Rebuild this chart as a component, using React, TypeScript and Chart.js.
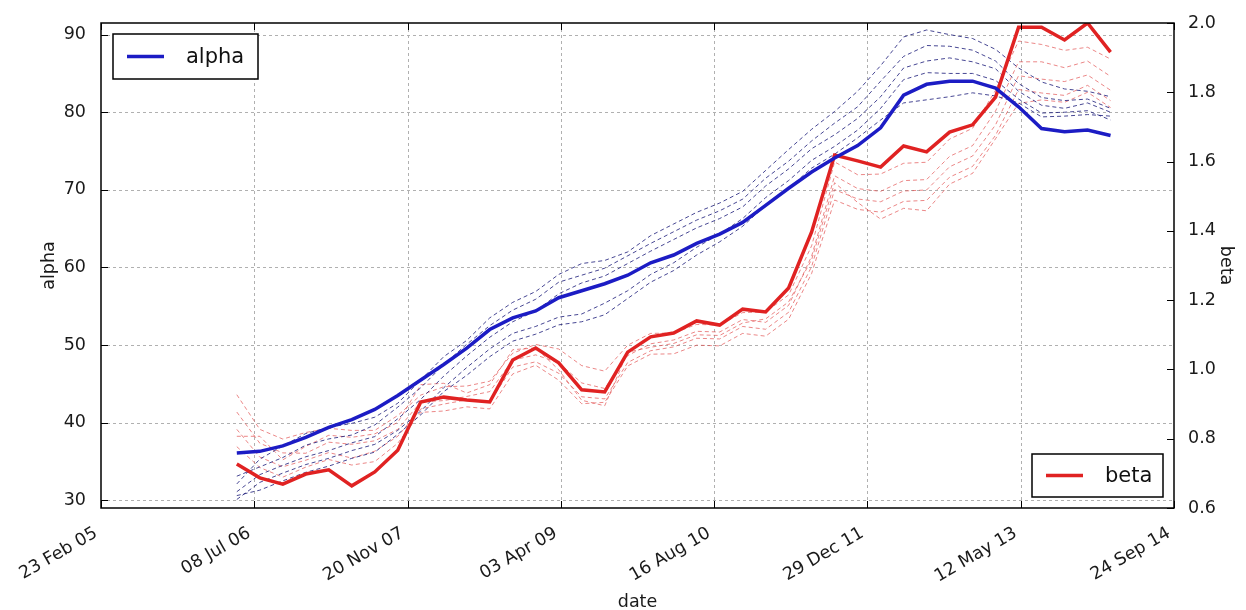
import React, { useEffect, useRef } from 'react';
import { Chart, registerables } from 'chart.js';

Chart.register(...registerables);

// ---------- data ----------
const dates = [
  '2006-05-12', '2006-07-26', '2006-10-09', '2006-12-23', '2007-03-08', '2007-05-22',
  '2007-08-05', '2007-10-19', '2008-01-02', '2008-03-17', '2008-05-31', '2008-08-14',
  '2008-10-28', '2009-01-11', '2009-03-27', '2009-06-10', '2009-08-24', '2009-11-07',
  '2010-01-21', '2010-04-06', '2010-06-20', '2010-09-03', '2010-11-17', '2011-01-31',
  '2011-04-16', '2011-06-30', '2011-09-13', '2011-11-27', '2012-02-10', '2012-04-25',
  '2012-07-09', '2012-09-22', '2012-12-06', '2013-02-19', '2013-05-05', '2013-07-19',
  '2013-10-02', '2013-12-16', '2014-03-01',
];

const alphaMain = [36.1, 36.3, 37.0, 38.1, 39.4, 40.4, 41.7, 43.5, 45.5, 47.5, 49.6, 52.0, 53.5, 54.4, 56.1, 57.0, 57.9, 59.0, 60.6, 61.6, 63.1, 64.3, 65.8, 68.0, 70.2, 72.3, 74.1, 75.7, 78.0, 82.2, 83.6, 84.0, 84.0, 83.1, 80.7, 77.9, 77.5, 77.7, 77.0];
const betaMain = [0.727, 0.687, 0.669, 0.698, 0.710, 0.664, 0.704, 0.767, 0.906, 0.920, 0.912, 0.906, 1.027, 1.062, 1.019, 0.941, 0.935, 1.050, 1.094, 1.105, 1.140, 1.128, 1.174, 1.166, 1.235, 1.397, 1.619, 1.602, 1.584, 1.645, 1.628, 1.685, 1.706, 1.786, 1.988, 1.988, 1.951, 2.000, 1.916];

const alphaRun1 = [32.1, 35.3, 37.0, 38.6, 39.4, 39.9, 40.7, 42.5, 45.5, 48.5, 50.6, 53.5, 55.5, 56.9, 59.1, 60.5, 60.9, 62.0, 64.1, 65.6, 67.1, 68.3, 69.8, 72.5, 75.2, 77.8, 80.1, 82.7, 86.0, 89.7, 90.6, 90.0, 89.5, 88.1, 85.7, 83.9, 83.0, 82.7, 82.0];
const alphaRun2 = [33.1, 34.3, 35.5, 37.1, 37.9, 38.4, 39.7, 42.0, 44.5, 47.5, 50.1, 52.5, 54.5, 55.9, 58.1, 59.0, 59.9, 61.5, 63.1, 64.6, 66.1, 67.3, 68.8, 71.5, 73.7, 76.3, 78.6, 80.7, 84.0, 87.2, 88.6, 88.5, 88.0, 86.6, 83.7, 81.9, 81.5, 81.7, 80.5];
const alphaRun3 = [31.1, 33.3, 34.5, 35.6, 36.4, 37.4, 38.2, 40.5, 43.0, 46.0, 48.6, 51.0, 53.0, 54.4, 56.6, 58.0, 58.9, 60.5, 62.1, 63.6, 65.1, 66.3, 67.8, 70.5, 72.7, 75.3, 77.1, 79.2, 82.0, 85.7, 86.6, 87.0, 86.5, 85.6, 82.7, 80.9, 80.5, 81.2, 80.0];
const alphaRun4 = [30.1, 32.3, 33.5, 34.6, 35.4, 36.4, 37.2, 39.0, 41.5, 44.5, 47.1, 49.5, 51.5, 52.4, 53.6, 54.0, 55.4, 57.0, 59.1, 60.6, 62.6, 64.3, 66.3, 69.0, 71.2, 73.8, 75.6, 77.7, 80.5, 84.2, 85.1, 85.0, 85.0, 84.1, 81.7, 79.9, 80.0, 80.2, 79.0];
const alphaRun5 = [30.6, 31.3, 32.5, 33.6, 34.4, 35.4, 36.2, 38.5, 41.0, 44.0, 46.1, 48.5, 50.5, 51.4, 52.6, 53.0, 53.9, 56.0, 58.1, 59.6, 61.6, 63.3, 65.3, 68.0, 70.2, 72.8, 74.6, 76.7, 79.0, 81.2, 81.6, 82.0, 82.5, 82.1, 81.2, 79.4, 79.5, 79.7, 79.5];

const betaRun1 = [0.927, 0.827, 0.799, 0.818, 0.830, 0.824, 0.824, 0.867, 0.926, 0.950, 0.952, 0.966, 1.047, 1.072, 1.059, 1.011, 0.995, 1.070, 1.104, 1.105, 1.130, 1.128, 1.164, 1.166, 1.215, 1.357, 1.599, 1.562, 1.564, 1.595, 1.598, 1.665, 1.696, 1.806, 1.948, 1.938, 1.921, 1.930, 1.896];
const betaRun2 = [0.877, 0.787, 0.759, 0.758, 0.790, 0.784, 0.794, 0.827, 0.906, 0.910, 0.922, 0.936, 1.027, 1.042, 1.019, 0.961, 0.945, 1.040, 1.074, 1.085, 1.110, 1.108, 1.144, 1.136, 1.185, 1.327, 1.559, 1.522, 1.514, 1.545, 1.548, 1.615, 1.646, 1.746, 1.888, 1.888, 1.871, 1.890, 1.846];
const betaRun3 = [0.827, 0.747, 0.719, 0.738, 0.760, 0.744, 0.764, 0.807, 0.886, 0.900, 0.912, 0.906, 1.007, 1.022, 0.989, 0.921, 0.915, 1.020, 1.054, 1.065, 1.090, 1.088, 1.124, 1.116, 1.165, 1.297, 1.519, 1.492, 1.484, 1.515, 1.518, 1.585, 1.616, 1.706, 1.848, 1.838, 1.831, 1.850, 1.806];
const betaRun4 = [0.777, 0.717, 0.689, 0.718, 0.740, 0.724, 0.734, 0.787, 0.876, 0.880, 0.892, 0.886, 0.987, 1.012, 0.969, 0.901, 0.905, 1.010, 1.044, 1.045, 1.070, 1.068, 1.104, 1.096, 1.145, 1.277, 1.489, 1.462, 1.454, 1.485, 1.488, 1.555, 1.586, 1.676, 1.808, 1.798, 1.791, 1.820, 1.776];
const betaRun5 = [0.807, 0.807, 0.739, 0.778, 0.810, 0.804, 0.814, 0.847, 0.956, 0.960, 0.932, 0.956, 1.057, 1.062, 0.999, 0.911, 0.895, 1.050, 1.064, 1.075, 1.100, 1.098, 1.134, 1.146, 1.195, 1.317, 1.539, 1.482, 1.434, 1.465, 1.458, 1.535, 1.566, 1.666, 1.768, 1.778, 1.771, 1.800, 1.756];

const xTickDates = ['2005-02-23', '2006-07-08', '2007-11-20', '2009-04-03', '2010-08-16', '2011-12-29', '2013-05-12', '2014-09-24'];
const alphaTicks = [30, 40, 50, 60, 70, 80, 90];
const betaTicks = [0.6, 0.8, 1.0, 1.2, 1.4, 1.6, 1.8, 2.0];
const alphaRange = [29.0, 91.5];
const betaRange = [0.6, 2.0];

const MONTHS = ['Jan', 'Feb', 'Mar', 'Apr', 'May', 'Jun', 'Jul', 'Aug', 'Sep', 'Oct', 'Nov', 'Dec'];

const dayNumber = (s: string) => {
  const [y, m, d] = s.split('-').map(Number);
  return Date.UTC(y, m - 1, d) / 86400000;
};
const fmtDate = (v: number) => {
  const dt = new Date(Math.round(v) * 86400000);
  const dd = String(dt.getUTCDate()).padStart(2, '0');
  const yy = String(dt.getUTCFullYear() % 100).padStart(2, '0');
  return `${dd} ${MONTHS[dt.getUTCMonth()]} ${yy}`;
};
const pts = (vals: number[]) => vals.map((v, i) => ({ x: dayNumber(dates[i]), y: v }));

const BLUE = '#1c1cc4';
const RED = '#e02222';
const RUN_BLUE = 'rgba(25,25,120,0.8)';
const RUN_RED = 'rgba(225,70,70,0.65)';
const FONT = "'DejaVu Sans', 'Liberation Sans', sans-serif";

export default function App() {
  const ref = useRef<HTMLCanvasElement | null>(null);

  useEffect(() => {
    document.body.style.margin = '0';
    const canvas = ref.current!;
    const mainDs = (label: string, data: number[], color: string, axis: string) => ({
      label, data: pts(data), borderColor: color, backgroundColor: color, borderWidth: 3.5,
      pointRadius: 0, tension: 0, yAxisID: axis, fill: false,
    });
    const runDs = (label: string, data: number[], color: string, axis: string) => ({
      label, data: pts(data), borderColor: color, backgroundColor: color, borderWidth: 1,
      borderDash: [4, 3], pointRadius: 0, tension: 0, yAxisID: axis, fill: false,
    });

    const framePlugin = {
      id: 'frame',
      beforeDatasetsDraw(chart: any) {
        const { ctx, chartArea: a, scales } = chart;
        ctx.save();
        ctx.strokeStyle = '#b0b0b0';
        ctx.lineWidth = 1;
        ctx.setLineDash([3, 3]);
        xTickDates.forEach((d) => {
          const x = Math.round(scales.x.getPixelForValue(dayNumber(d))) + 0.5;
          if (x < a.left + 2 || x > a.right - 2) return;
          ctx.beginPath(); ctx.moveTo(x, a.top); ctx.lineTo(x, a.bottom); ctx.stroke();
        });
        alphaTicks.forEach((v) => {
          const y = Math.round(scales.y.getPixelForValue(v)) + 0.5;
          ctx.beginPath(); ctx.moveTo(a.left, y); ctx.lineTo(a.right, y); ctx.stroke();
        });
        ctx.restore();
      },
      afterDatasetsDraw(chart: any) {
        const { ctx, chartArea: a, scales } = chart;
        ctx.save();
        ctx.setLineDash([]);
        ctx.strokeStyle = '#000';
        ctx.lineWidth = 1;
        const TL = 7;
        xTickDates.forEach((d) => {
          const x = Math.round(scales.x.getPixelForValue(dayNumber(d))) + 0.5;
          ctx.beginPath(); ctx.moveTo(x, a.bottom); ctx.lineTo(x, a.bottom - TL); ctx.stroke();
          ctx.beginPath(); ctx.moveTo(x, a.top); ctx.lineTo(x, a.top + TL); ctx.stroke();
        });
        alphaTicks.forEach((v) => {
          const y = Math.round(scales.y.getPixelForValue(v)) + 0.5;
          ctx.beginPath(); ctx.moveTo(a.left, y); ctx.lineTo(a.left + TL, y); ctx.stroke();
        });
        betaTicks.forEach((v) => {
          const y = Math.round(scales.y2.getPixelForValue(v)) + 0.5;
          ctx.beginPath(); ctx.moveTo(a.right, y); ctx.lineTo(a.right - TL, y); ctx.stroke();
        });
        ctx.lineWidth = 1.5;
        ctx.strokeRect(a.left, a.top, a.right - a.left, a.bottom - a.top);

        const legend = (bx: number, by: number, bw: number, bh: number, color: string, text: string) => {
          ctx.fillStyle = '#fff';
          ctx.fillRect(bx, by, bw, bh);
          ctx.strokeStyle = '#000';
          ctx.lineWidth = 1.5;
          ctx.strokeRect(bx, by, bw, bh);
          const cy = by + bh / 2;
          ctx.strokeStyle = color;
          ctx.lineWidth = 3.5;
          ctx.beginPath(); ctx.moveTo(bx + 14, cy); ctx.lineTo(bx + 51, cy); ctx.stroke();
          ctx.fillStyle = '#111';
          ctx.font = `21px ${FONT}`;
          ctx.textBaseline = 'middle';
          ctx.textAlign = 'left';
          ctx.fillText(text, bx + 73, cy + 1);
        };
        legend(a.left + 12, a.top + 11, 145, 45, BLUE, 'alpha');
        legend(a.right - 142, a.bottom - 54, 131, 43, RED, 'beta');
        ctx.restore();
      },
    };

    const tickFont = { family: FONT, size: 17.5 };
    const chart = new Chart(canvas, {
      type: 'line',
      data: {
        datasets: [
          mainDs('alpha', alphaMain, BLUE, 'y'),
          mainDs('beta', betaMain, RED, 'y2'),
          runDs('alpha run 1', alphaRun1, RUN_BLUE, 'y'),
          runDs('alpha run 2', alphaRun2, RUN_BLUE, 'y'),
          runDs('alpha run 3', alphaRun3, RUN_BLUE, 'y'),
          runDs('alpha run 4', alphaRun4, RUN_BLUE, 'y'),
          runDs('alpha run 5', alphaRun5, RUN_BLUE, 'y'),
          runDs('beta run 1', betaRun1, RUN_RED, 'y2'),
          runDs('beta run 2', betaRun2, RUN_RED, 'y2'),
          runDs('beta run 3', betaRun3, RUN_RED, 'y2'),
          runDs('beta run 4', betaRun4, RUN_RED, 'y2'),
          runDs('beta run 5', betaRun5, RUN_RED, 'y2'),
        ] as any,
      },
      options: {
        animation: false,
        responsive: false,
        devicePixelRatio: 1,
        parsing: false as any,
        normalized: true,
        layout: { padding: { top: 23, left: 0, right: 0, bottom: 0 } },
        plugins: { legend: { display: false }, tooltip: { enabled: false } },
        scales: {
          x: {
            type: 'linear',
            position: 'bottom',
            min: dayNumber(xTickDates[0]),
            max: dayNumber(xTickDates[xTickDates.length - 1]),
            afterBuildTicks: (s: any) => { s.ticks = xTickDates.map((d) => ({ value: dayNumber(d) })); },
            afterFit: (s: any) => { s.height = 102; },
            grid: { display: false },
            border: { display: false },
            ticks: {
              callback: (v: any) => fmtDate(Number(v)),
              autoSkip: false, minRotation: 30, maxRotation: 30,
              padding: 7, labelOffset: -5, color: '#1a1a1a', font: tickFont,
            },
            title: { display: true, text: 'date', color: '#1a1a1a', font: tickFont, padding: { top: 0, bottom: -3 } },
          },
          y: {
            type: 'linear', position: 'left',
            min: alphaRange[0], max: alphaRange[1],
            afterBuildTicks: (s: any) => { s.ticks = alphaTicks.map((v) => ({ value: v })); },
            afterFit: (s: any) => { s.width = 101; },
            grid: { display: false },
            border: { display: false },
            ticks: { padding: 7, color: '#1a1a1a', font: tickFont, callback: (v: any) => String(v) },
            title: { display: true, text: 'alpha', color: '#1a1a1a', font: tickFont, padding: { top: 39, bottom: 0 } },
          },
          y2: {
            type: 'linear', position: 'right',
            min: betaRange[0], max: betaRange[1],
            afterBuildTicks: (s: any) => { s.ticks = betaTicks.map((v) => ({ value: v })); },
            afterFit: (s: any) => { s.width = 72; },
            grid: { display: false },
            border: { display: false },
            ticks: { padding: 6, color: '#1a1a1a', font: tickFont, callback: (v: any) => Number(v).toFixed(1) },
            title: { display: true, text: 'beta', color: '#1a1a1a', font: tickFont, padding: { top: 10, bottom: 0 } },
          },
        },
      } as any,
      plugins: [framePlugin],
    });
    return () => chart.destroy();
  }, []);

  return (
    <div style={{ width: 1246, height: 610, background: '#fff' }}>
      <canvas ref={ref} width={1246} height={610} style={{ display: 'block', width: 1246, height: 610 }} />
    </div>
  );
}
